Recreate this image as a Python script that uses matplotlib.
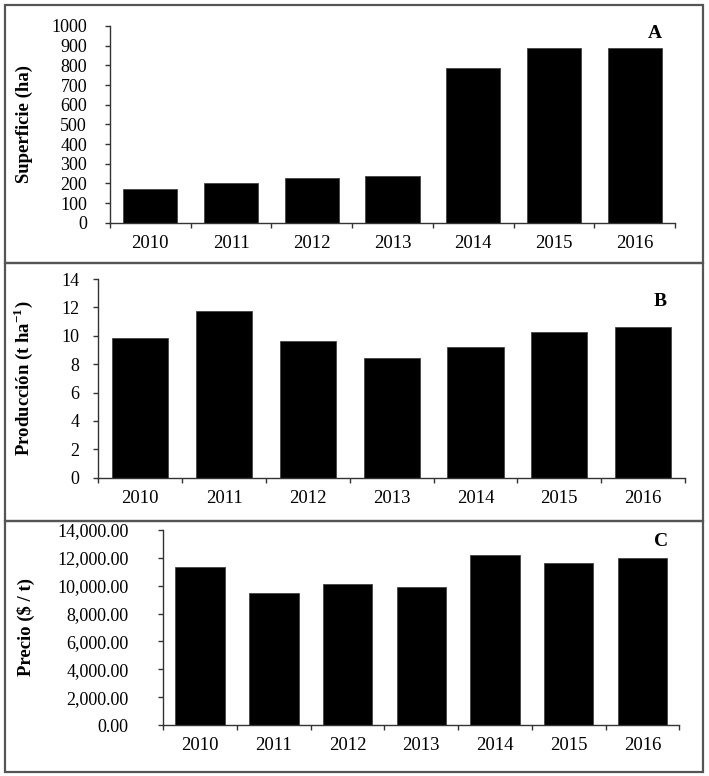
import numpy as np
import matplotlib
matplotlib.use("Agg")
import matplotlib.pyplot as plt
from matplotlib.patches import Rectangle
from matplotlib.ticker import FuncFormatter

years = ["2010", "2011", "2012", "2013", "2014", "2015", "2016"]
superficie = [171, 203, 227, 239, 788, 886, 886]
produccion = [9.82, 11.77, 9.60, 8.46, 9.18, 10.27, 10.64]
precio = [11320, 9480, 10120, 9930, 12200, 11650, 11970]

plt.rcParams['font.family'] = ['Liberation Serif', 'DejaVu Serif']
plt.rcParams['mathtext.fontset'] = 'custom'
plt.rcParams['mathtext.rm'] = 'Liberation Serif'
plt.rcParams['mathtext.bf'] = 'Liberation Serif:bold'

W, H = 709, 776
fig = plt.figure(figsize=(W / 100, H / 100), dpi=100)


def px_axes(x0, y0, x1, y1):
    # pixel box (top-left origin) -> figure axes
    return fig.add_axes([x0 / W, 1 - y1 / H, (x1 - x0) / W, (y1 - y0) / H])


# panel frames
for (y0, y1) in [(5, 263), (263, 521), (521, 772)]:
    fig.patches.append(Rectangle((5 / W, 1 - y1 / H), 698 / W, (y1 - y0) / H,
                                 transform=fig.transFigure, fill=False,
                                 edgecolor="#555555", lw=1.6))

panels = [
    dict(box=(110, 26, 675, 222.7), vals=superficie, ymax=1000, step=100,
         fmt=lambda v, p: "%d" % v, ylabel="Superficie (ha)", letter="A",
         lpos=(655, 33), ypad=13, lab_x=33),
    dict(box=(98.3, 279, 685, 477.7), vals=produccion, ymax=14, step=2,
         fmt=lambda v, p: "%d" % v, ylabel="Producción (t ha$^{\\mathbf{-1}}$)",
         letter="B", lpos=(660, 302), ypad=10, lab_x=35),
    dict(box=(163.3, 530, 679.3, 725), vals=precio, ymax=14000, step=2000,
         fmt=lambda v, p: "{:,.2f}".format(v), ylabel="Precio (\\$ / t)",
         letter="C", lpos=(661, 542), ypad=21.5, lab_x=35),
]

x = np.arange(len(years))
for p in panels:
    x0, y0, x1, y1 = p["box"]
    ax = px_axes(x0, y0, x1, y1)
    ax.bar(x, p["vals"], width=0.67, color="black", edgecolor="#444444", lw=0.6)
    ax.set_xlim(-0.5, len(years) - 0.5)
    ax.set_ylim(0, p["ymax"])
    ax.set_yticks(np.arange(0, p["ymax"] + p["step"] / 2, p["step"]))
    ax.yaxis.set_major_formatter(FuncFormatter(p["fmt"]))
    ax.set_xticks(x)
    ax.set_xticklabels(years)
    ax.set_xticks(np.arange(-0.5, len(years)), minor=True)
    ax.tick_params(axis="x", which="major", length=0, pad=9, labelsize=13.5)
    ax.tick_params(axis="x", which="minor", length=3.5, width=1, color="#333333")
    ax.tick_params(axis="y", length=3.5, width=1, color="#333333",
                   pad=p["ypad"], labelsize=13)
    for s in ["top", "right"]:
        ax.spines[s].set_visible(False)
    for s in ["left", "bottom"]:
        ax.spines[s].set_color("#333333")
        ax.spines[s].set_linewidth(1.0)
    ax.set_ylabel(p["ylabel"], fontsize=13.5, fontweight="bold")
    ax.yaxis.set_label_coords((p["lab_x"] - x0) / (x1 - x0), 0.5)
    fig.text(p["lpos"][0] / W, 1 - p["lpos"][1] / H, p["letter"],
             fontsize=14, fontweight="bold", ha="center", va="center")

fig.savefig("out.png", dpi=100, facecolor="white")
